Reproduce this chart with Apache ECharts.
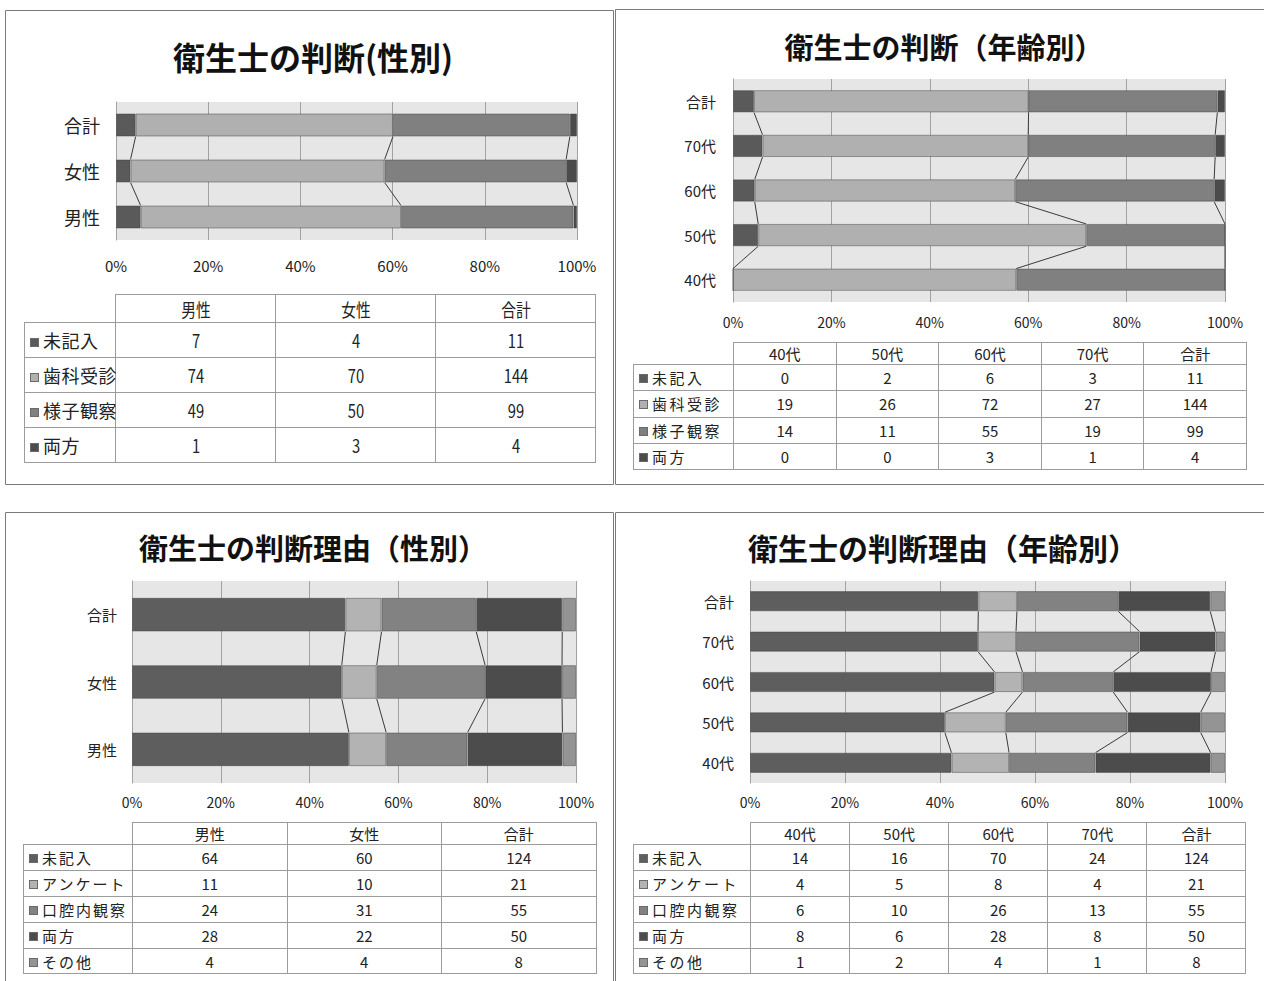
<!DOCTYPE html>
<html lang="ja">
<head>
<meta charset="utf-8">
<title>衛生士の判断</title>
<script src="https://cdn.jsdelivr.net/npm/echarts@6/dist/echarts.min.js"></script>
<style>
  html, body { margin: 0; padding: 0; background: #fff; }
  #chart { position: absolute; left: 0; top: 0; width: 1264px; height: 981px; }
  .tbl { position: absolute; border-collapse: collapse; table-layout: fixed;
         font-family: "Noto Sans CJK JP", "Noto Sans", sans-serif; color: #222; }
  .tbl td { border: 1px solid #9c9c9c; text-align: center; padding: 0; white-space: nowrap; overflow: visible; }
  .tbl td.blank { border: none; }
  .tbl td.lab { text-align: left; padding-left: 5px; }
  .mk { display: inline-block; width: 9px; height: 9px; margin-right: 4px; vertical-align: 1px;
        border: 1px solid #6a6a6a; box-sizing: border-box; }
  .nar { display: inline-block; transform: scaleX(0.82); transform-origin: center; }
</style>
</head>
<body>
<div id="chart"></div>
<script>
// ---- data ----
const catsSex = ['男性', '女性', '合計'];
const catsAge = ['40代', '50代', '60代', '70代', '合計'];
const judgeNames = ['未記入', '歯科受診', '様子観察', '両方'];
const reasonNames = ['未記入', 'アンケート', '口腔内観察', '両方', 'その他'];

// rows = answer, columns = category
const judgeBySex = [
  [7, 4, 11],
  [74, 70, 144],
  [49, 50, 99],
  [1, 3, 4]
];
const judgeByAge = [
  [0, 2, 6, 3, 11],
  [19, 26, 72, 27, 144],
  [14, 11, 55, 19, 99],
  [0, 0, 3, 1, 4]
];
const reasonBySex = [
  [64, 60, 124],
  [11, 10, 21],
  [24, 31, 55],
  [28, 22, 50],
  [4, 4, 8]
];
const reasonByAge = [
  [14, 16, 70, 24, 124],
  [4, 5, 8, 4, 21],
  [6, 10, 26, 13, 55],
  [8, 6, 28, 8, 50],
  [1, 2, 4, 1, 8]
];
const titles = ['衛生士の判断(性別)', '衛生士の判断（年齢別）', '衛生士の判断理由（性別）', '衛生士の判断理由（年齢別）'];

const judgeColors = ['#5a5a5a', '#b0b0b0', '#808080', '#4b4b4b'];
const reasonColors = ['#5e5e5e', '#b3b3b3', '#828282', '#4c4c4c', '#949494'];

const FONT = '"Noto Sans CJK JP", "Noto Sans", sans-serif';

// ---- helpers ----
function colTotals(m) {
  return m[0].map((_, c) => m.reduce((s, row) => s + row[c], 0));
}
function percents(m) {
  const t = colTotals(m);
  return m.map(row => row.map((v, c) => v / t[c] * 100));
}
function cumulative(m) {
  const p = percents(m);
  const out = [];
  let acc = p[0].map(() => 0);
  p.forEach(row => { acc = acc.map((a, c) => a + row[c]); out.push(acc.slice()); });
  return out;
}

// panel layouts (pixel geometry of each plot)
const panels = [
  { cats: catsSex, names: judgeNames, colors: judgeColors, m: judgeBySex,
    grid: { left: 116, top: 102, width: 461, height: 138 },
    title: { x: 308, y: 35, size: 32 }, yFont: 18, xFont: 15, yMargin: 16, xMargin: 18 },
  { cats: catsAge, names: judgeNames, colors: judgeColors, m: judgeByAge,
    grid: { left: 733, top: 79, width: 492, height: 223 },
    title: { x: 939, y: 26, size: 29 }, yFont: 15, xFont: 14, yMargin: 17, xMargin: 13 },
  { cats: catsSex, names: reasonNames, colors: reasonColors, m: reasonBySex,
    grid: { left: 132, top: 581, width: 444, height: 202 },
    title: { x: 308, y: 527, size: 29 }, yFont: 15, xFont: 14, yMargin: 15, xMargin: 12 },
  { cats: catsAge, names: reasonNames, colors: reasonColors, m: reasonByAge,
    grid: { left: 750, top: 581, width: 475, height: 202 },
    title: { x: 938, y: 527, size: 30 }, yFont: 15, xFont: 14, yMargin: 16, xMargin: 12 }
];

const option = {
  animation: false,
  title: [], grid: [], xAxis: [], yAxis: [], series: [],
  graphic: [
    { type: 'rect', shape: { x: 5.5, y: 10.5, width: 608, height: 474 }, style: { fill: 'none', stroke: '#7a7a7a', lineWidth: 1 }, z: -1 },
    { type: 'rect', shape: { x: 615.5, y: 9.5, width: 660, height: 475 }, style: { fill: 'none', stroke: '#7a7a7a', lineWidth: 1 }, z: -1 },
    { type: 'rect', shape: { x: 5.5, y: 512.5, width: 608, height: 490 }, style: { fill: 'none', stroke: '#7a7a7a', lineWidth: 1 }, z: -1 },
    { type: 'rect', shape: { x: 615.5, y: 512.5, width: 660, height: 490 }, style: { fill: 'none', stroke: '#7a7a7a', lineWidth: 1 }, z: -1 }
  ]
};

panels.forEach((p, i) => {
  option.title.push({
    text: titles[i], left: p.title.x, top: p.title.y, textAlign: 'center',
    textStyle: { fontFamily: FONT, fontWeight: 'bold', fontSize: p.title.size, color: '#111' }
  });
  option.grid.push(Object.assign({ show: true, backgroundColor: '#e6e6e6', borderWidth: 0 }, p.grid));
  option.xAxis.push({
    type: 'value', gridIndex: i, min: 0, max: 100, interval: 20,
    axisLine: { show: false }, axisTick: { show: false },
    splitLine: { show: true, lineStyle: { color: '#a2a2a2', width: 1 } },
    axisLabel: { formatter: '{value}%', fontFamily: FONT, fontSize: p.xFont, color: '#222', margin: p.xMargin }
  });
  option.yAxis.push({
    type: 'category', gridIndex: i, data: p.cats,
    axisTick: { show: false },
    axisLine: { show: true, lineStyle: { color: '#a2a2a2' } },
    axisLabel: { fontFamily: FONT, fontSize: p.yFont, color: '#222', margin: p.yMargin }
  });
  const pct = percents(p.m);
  pct.forEach((row, s) => {
    option.series.push({
      type: 'bar', name: p.names[s], xAxisIndex: i, yAxisIndex: i,
      stack: 'total' + i, barCategoryGap: '50%',
      data: row,
      itemStyle: { color: p.colors[s], borderColor: 'rgba(60,60,60,0.45)', borderWidth: 1 },
      emphasis: { disabled: true }
    });
  });
  // series lines joining the segment boundaries of neighbouring bars
  const cum = cumulative(p.m);
  const lineData = [];
  for (let s = 0; s < cum.length - 1; s++) {
    for (let c = 0; c < p.cats.length - 1; c++) {
      lineData.push([cum[s][c], c, cum[s][c + 1]]);
    }
  }
  option.series.push({
    type: 'custom', xAxisIndex: i, yAxisIndex: i, silent: true, z: 1,
    encode: { x: [0, 2], y: 1 },
    data: lineData,
    renderItem: (params, api) => {
      const c = api.value(1);
      const a = api.coord([api.value(0), c]);
      const b = api.coord([api.value(2), c + 1]);
      const half = api.size([0, 1])[1] * 0.25;
      return {
        type: 'line',
        shape: { x1: a[0], y1: a[1] - half, x2: b[0], y2: b[1] + half },
        style: { stroke: '#3a3a3a', lineWidth: 1 }
      };
    }
  });
});

const chart = echarts.init(document.getElementById('chart'), null, { renderer: 'svg', width: 1264, height: 981 });
chart.setOption(option);

// ---- data tables below each plot ----
const tables = [
  { m: judgeBySex, cats: catsSex, names: judgeNames, colors: judgeColors,
    left: 24, top: 294, labelW: 91, colW: 160.1, headH: 28, rowH: 35, font: 18, narrow: true, spacing: 0.5 },
  { m: judgeByAge, cats: catsAge, names: judgeNames, colors: judgeColors,
    left: 633, top: 342, labelW: 100, colW: 102.6, headH: 21, rowH: 26.3, font: 15, narrow: false, spacing: 2.5 },
  { m: reasonBySex, cats: catsSex, names: reasonNames, colors: reasonColors,
    left: 23, top: 822, labelW: 109, colW: 154.5, headH: 21, rowH: 25.9, font: 15, narrow: false, spacing: 2 },
  { m: reasonByAge, cats: catsAge, names: reasonNames, colors: reasonColors,
    left: 633, top: 822, labelW: 117, colW: 99.1, headH: 21, rowH: 25.9, font: 15, narrow: false, spacing: 2.5 }
];

tables.forEach(t => {
  const wrap = s => t.narrow ? '<span class="nar">' + s + '</span>' : s;
  const tbl = document.createElement('table');
  tbl.className = 'tbl';
  tbl.style.left = t.left + 'px';
  tbl.style.top = t.top + 'px';
  tbl.style.fontSize = t.font + 'px';
  tbl.style.width = (t.labelW + t.colW * t.cats.length) + 'px';
  let html = '<colgroup><col style="width:' + t.labelW + 'px">';
  t.cats.forEach(() => { html += '<col style="width:' + t.colW + 'px">'; });
  html += '</colgroup>';
  html += '<tr style="height:' + t.headH + 'px"><td class="blank"></td>';
  t.cats.forEach(c => { html += '<td>' + wrap(c) + '</td>'; });
  html += '</tr>';
  t.m.forEach((row, r) => {
    html += '<tr style="height:' + t.rowH + 'px"><td class="lab" style="letter-spacing:' + t.spacing + 'px">' +
      '<span class="mk" style="background:' + t.colors[r] + '"></span>' + t.names[r] + '</td>';
    row.forEach(v => { html += '<td>' + wrap(String(v)) + '</td>'; });
    html += '</tr>';
  });
  tbl.innerHTML = html;
  document.body.appendChild(tbl);
});
</script>
</body>
</html>
